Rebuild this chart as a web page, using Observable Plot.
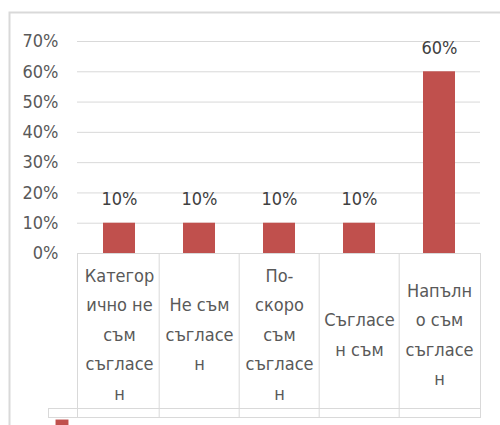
<!DOCTYPE html>
<html>
<head>
<meta charset="utf-8">
<script src="https://cdn.jsdelivr.net/npm/d3@7"></script>
<script src="https://cdn.jsdelivr.net/npm/@observablehq/plot@0.6"></script>
<style>
  html, body { margin: 0; padding: 0; background: #fff; }
  #chart svg { overflow: hidden; }
</style>
</head>
<body>
<div id="chart"></div>
<script>
const categories = [
  "Категорично не съм съгласен",
  "Не съм съгласен",
  "По-скоро съм съгласен",
  "Съгласен съм",
  "Напълно съм съгласен"
];
const tickLabels = [
  "Категор\nично не\nсъм\nсъгласе\nн",
  "Не съм\nсъгласе\nн",
  "По-\nскоро\nсъм\nсъгласе\nн",
  "Съгласе\nн съм",
  "Напълн\nо съм\nсъгласе\nн"
];
const values = [0.10, 0.10, 0.10, 0.10, 0.60];
const yTicks = [0, 0.1, 0.2, 0.3, 0.4, 0.5, 0.6, 0.7];
const seriesName = ["Ряд 1"];

const data = categories.map((c, i) => ({cat: c, label: tickLabels[i], value: values[i]}));

const W = 500, H = 425;
const mL = 77, mR = 20, mT = 41, mB = 8;
const step = (W - mL - mR) / categories.length;
const font = "'Liberation Sans Narrow', 'DejaVu Sans Condensed', 'Liberation Sans', sans-serif";
const grid = "#d9d9d9";
const red = "#c0504d";

const chart = Plot.plot({
  width: W,
  height: H,
  marginLeft: mL,
  marginRight: mR,
  marginTop: mT,
  marginBottom: mB,
  style: {fontFamily: font, background: "#fff"},
  x: {domain: categories, paddingInner: 0.6, paddingOuter: 0.3, axis: null},
  y: {domain: [0, 0.7], range: [253, 41]},
  marks: [
    // outer chart border
    Plot.frame({stroke: grid, strokeWidth: 2, insetLeft: -68, insetTop: -29, insetRight: -30, insetBottom: -30}),
    Plot.gridY(yTicks, {stroke: grid, strokeOpacity: 1, strokeWidth: 1}),
    Plot.axisY(yTicks, {
      tickSize: 0, tickPadding: 19, tickFormat: d3.format(".0%"),
      fontSize: 18, fill: "#595959", label: null
    }),
    // data table frame
    Plot.frame({stroke: grid, strokeWidth: 1, insetTop: 212}),
    Plot.ruleX(categories.slice(1), {stroke: grid, strokeWidth: 1, dx: -step / 2, insetTop: 212}),
    // legend row of the data table
    Plot.frame({stroke: grid, strokeWidth: 1, insetLeft: -29, insetTop: 367}),
    Plot.barY(data, {x: "cat", y: "value", fill: red}),
    Plot.text(data, {
      x: "cat", y: "value", text: d => d3.format(".0%")(d.value),
      dy: -24, fontSize: 18, fill: "#404040"
    }),
    Plot.text(data, {
      x: "cat", text: "label", frameAnchor: "top", dy: 290,
      lineAnchor: "middle", lineHeight: 1.64, fontSize: 18, fill: "#595959"
    }),
    // legend key
    Plot.dot(seriesName, {
      frameAnchor: "bottom-left", dx: -15.5, dy: 8.5,
      symbol: "square", r: 7.3, fill: red, stroke: null
    })
  ]
});
document.getElementById("chart").appendChild(chart);
</script>
</body>
</html>
